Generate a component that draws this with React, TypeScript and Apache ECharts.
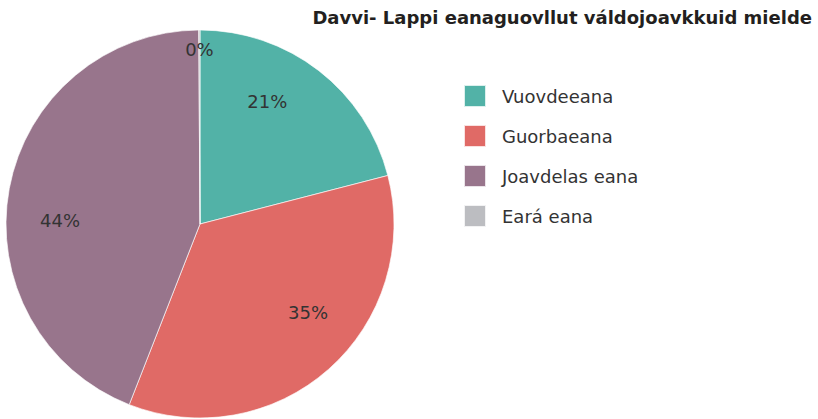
import React, { useEffect, useRef } from "react";
import * as echarts from "echarts";

const title = "Davvi- Lappi eanaguovllut váldojoavkkuid mielde";
const categories = ["Vuovdeeana", "Guorbaeana", "Joavdelas eana", "Eará eana"];
const values = [21, 35, 44, 0.1];
const colors = ["#52b2a7", "#e06a66", "#98758c", "#bcbdc1"];

export default function App() {
  const ref = useRef<HTMLDivElement>(null);
  useEffect(() => {
    if (!ref.current) return;
    const chart = echarts.init(ref.current, null, { renderer: "svg" });
    const total = values.reduce((a, b) => a + b, 0);
    const data = categories.map((name, i) => ({ name, value: values[i] }));
    const fmt = (p: any) => Math.round((p.value / total) * 100) + "%";
    const font = "'DejaVu Sans', sans-serif";
    chart.setOption({
      animation: false,
      color: colors,
      title: {
        text: title,
        right: 6,
        top: 8,
        padding: 0,
        textStyle: { fontFamily: font, fontSize: 18, fontWeight: "bold", color: "#231f20" },
      },
      legend: {
        orient: "vertical",
        left: 463,
        top: 84,
        padding: 0,
        icon: "rect",
        itemWidth: 22,
        itemHeight: 22,
        itemGap: 16,
        selectedMode: false,
        data: categories,
        textStyle: { fontFamily: font, fontSize: 18, color: "#333", padding: [0, 0, 0, 11] },
      },
      series: [
        {
          type: "pie",
          center: [200, 224],
          radius: 194,
          startAngle: 90,
          clockwise: true,
          silent: true,
          data,
          label: { show: false },
          labelLine: { show: false },
          itemStyle: { borderColor: "rgba(255,255,255,0.8)", borderWidth: 0.8 },
        },
        {
          type: "pie",
          center: [200, 224],
          radius: [80, 194],
          startAngle: 99,
          clockwise: true,
          silent: true,
          data: data.map((d, i) => ({ ...d, label: { show: i < 3 } })),
          itemStyle: { color: "rgba(0,0,0,0)" },
          label: { show: true, position: "inside", formatter: fmt, fontFamily: font, fontSize: 18, color: "#333" },
          labelLine: { show: false },
          legendHoverLink: false,
        },
        {
          type: "pie",
          center: [200, 224],
          radius: [150, 194],
          startAngle: 90,
          clockwise: true,
          silent: true,
          data: data.map((d, i) => ({ ...d, label: { show: i === 3 } })),
          itemStyle: { color: "rgba(0,0,0,0)" },
          label: { show: true, position: "inside", formatter: fmt, fontFamily: font, fontSize: 18, color: "#333" },
          labelLine: { show: false },
          legendHoverLink: false,
        },
      ],
    });
    return () => chart.dispose();
  }, []);
  return <div ref={ref} style={{ position: "absolute", left: 0, top: 0, width: 818, height: 419 }} />;
}
